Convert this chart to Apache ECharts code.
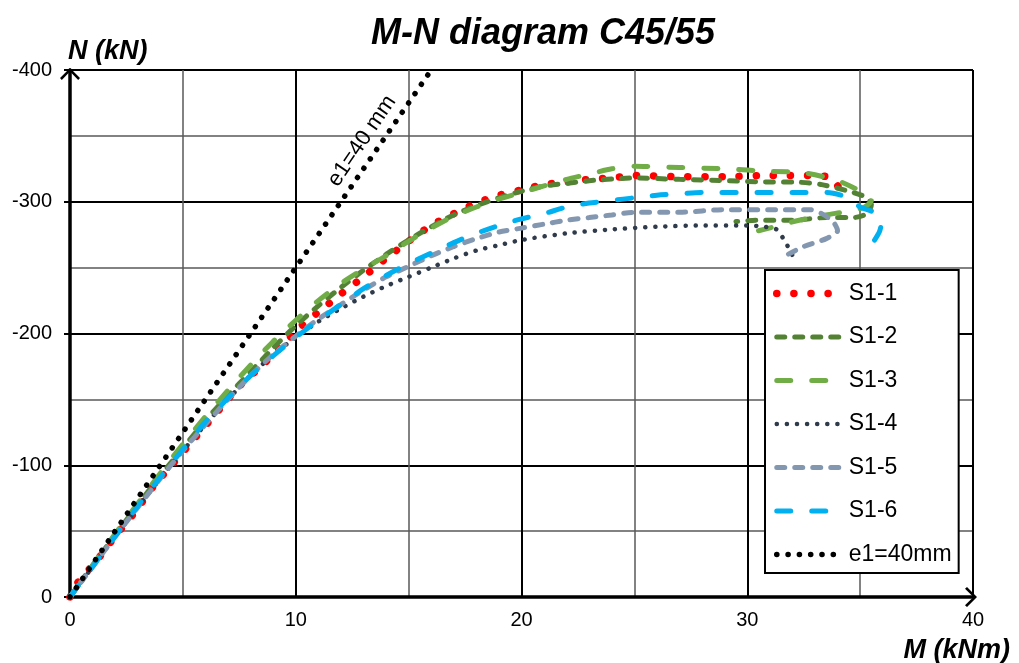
<!DOCTYPE html>
<html>
<head>
<meta charset="utf-8">
<script src="https://cdn.jsdelivr.net/npm/echarts@6/dist/echarts.min.js"></script>
<style>
  html, body { margin: 0; padding: 0; background: #fff; }
  #chart { width: 1019px; height: 663px; }
</style>
</head>
<body>
<div id="chart"></div>
<script>
// M-N interaction curves, pairs of [M (kNm), N (kN)]
const s11 = [[0,0],[0.3,-10],[1.2,-28],[2,-46],[2.9,-65],[3.7,-84],[4.5,-100],[5.4,-118],[6.7,-144],[7.5,-160],[8.4,-174],[9.3,-189],[10.2,-205],[11.2,-219],[12,-230],[13,-243],[14,-257],[15,-270],[16,-282],[17,-291],[18,-299],[19,-305],[20,-309],[21,-313],[22,-315],[23,-317],[24,-318],[25,-320],[27,-319],[29,-319],[31,-320],[33,-320],[33.7,-318],[34.1,-310],[34.4,-303]];
const s12 = [[0,0],[1,-24],[2,-47],[3,-70],[4,-92],[5,-113],[6,-134],[7,-153],[8,-171],[9,-189],[10,-206],[11,-221],[12,-235],[13,-248],[14,-260],[15,-271],[16,-281],[17,-290],[18,-297],[19,-303],[20,-308],[21,-312],[22,-314],[23,-316],[25,-318],[27,-317],[29,-316],[31,-315],[32,-315],[33.3,-313],[34.7,-307],[35.3,-303],[35.5,-298],[35.3,-291],[34.7,-288],[33.5,-288],[32,-286],[30.5,-286],[29.5,-285]];
const s13 = [[0,0],[1,-24],[2,-48],[3,-71],[4,-94],[5,-116],[6,-137],[7,-157],[8,-176],[9,-194],[10,-210],[11,-225],[12,-238],[13,-249],[14,-259],[15,-270],[16,-280],[17,-289],[18,-296],[19,-302],[20,-307],[21,-312],[22,-317],[23,-321],[24,-325],[25,-327],[27,-326],[29,-325],[31,-323],[32.5,-322],[34,-316],[35,-308],[35.5,-301],[35.2,-296],[34.5,-293],[33.5,-290],[32.3,-286],[31.2,-281],[30.5,-278]];
const s14 = [[0,0],[1,-23],[2,-46],[3,-68],[4,-90],[5,-111],[6,-131],[7,-150],[8,-168],[9,-184],[10,-197],[11,-209],[12,-219],[13,-228],[14,-236],[15,-243],[16,-250],[17,-257],[18,-263],[19,-267],[20,-271],[22,-276],[24,-279],[26,-281],[28,-282],[30,-282],[30.8,-281],[31.3,-279],[31.6,-272],[31.8,-266],[32.1,-256]];
const s15 = [[0,0],[1,-23],[2,-46],[3,-68],[4,-90],[5,-111],[6,-131],[7,-150],[8,-168],[9,-184],[10,-198],[11,-211],[12,-222],[13,-233],[14,-243],[15,-251],[16,-259],[17,-266],[18,-272],[19,-277],[20,-280],[21,-283],[22,-286],[23,-288],[24,-290],[25,-292],[27,-292],[29,-294],[31,-294],[32.8,-294],[33.3,-291],[33.8,-285],[34,-278],[33.5,-272],[32.5,-266],[31.8,-260]];
const s16 = [[0,0],[1,-23],[2,-46],[3,-69],[4,-91],[5,-112],[6,-133],[7,-151],[8,-168],[9,-183],[10,-197],[11,-210],[12,-222],[13,-234],[14,-244],[15,-253],[16,-261],[17,-269],[18,-276],[19,-282],[20,-287],[21,-291],[22,-296],[23,-299],[24,-301],[25,-303],[26,-305],[27,-306],[28,-307],[30,-307],[32,-307],[33.5,-307],[34.5,-303],[35,-296],[35.6,-292],[35.95,-285],[35.85,-277],[35.5,-267],[35.25,-258]];
// first-order eccentricity line e1 = 40 mm: M = 0.04 * N
const e1Line = [[0,0],[16,-400]];

const seriesNames = ['S1-1','S1-2','S1-3','S1-4','S1-5','S1-6','e1=40mm'];
const xTicks = [0, 40, 10];      // min, max, step of M axis
const yTicks = [-400, 0, 100];   // min, max, step of N axis

const FONT = "'Liberation Sans', Arial, sans-serif";

function curve(name, data, color, width, dash) {
  return {
    name: name, type: 'line', data: data, symbol: 'none', smooth: 0.25,
    lineStyle: { color: color, width: width, type: dash, cap: 'round' },
    itemStyle: { color: color },
    emphasis: { disabled: true }, animation: false
  };
}

const chart = echarts.init(document.getElementById('chart'), null, { renderer: 'canvas' });

// open chevron arrow head for the axis ends
const arrowPath = 'path://M10,0 L20,10 L18.2,12 L10,3.6 L1.8,12 L0,10 Z';

chart.setOption({
  backgroundColor: '#fff',
  animation: false,
  title: [
    { text: 'M-N diagram C45/55', left: 366, top: 11,
      textStyle: { fontSize: 36, fontWeight: 'bold', fontStyle: 'italic', fontFamily: FONT, color: '#000' } },
    { text: 'N (kN)', left: 63, top: 33,
      textStyle: { fontSize: 27, fontWeight: 'bold', fontStyle: 'italic', fontFamily: FONT, color: '#000' } },
    { text: 'M (kNm)', right: 4, top: 632,
      textStyle: { fontSize: 27, fontWeight: 'bold', fontStyle: 'italic', fontFamily: FONT, color: '#000' } }
  ],
  grid: { left: 70, top: 70, right: 46, bottom: 66, containLabel: false },
  legend: {
    orient: 'vertical', left: 765, top: 270,
    itemWidth: 67, itemHeight: 18, itemGap: 20.5,
    padding: [12, 7, 7, 8],
    backgroundColor: '#fff', borderColor: '#000', borderWidth: 2,
    textStyle: { fontSize: 23, fontFamily: FONT, color: '#000' },
    itemStyle: { color: 'rgba(0,0,0,0)', borderWidth: 0, opacity: 0 },
    lineStyle: { width: 'inherit', type: 'inherit', cap: 'inherit' },
    data: seriesNames,
    selectedMode: false
  },
  xAxis: {
    type: 'value', min: xTicks[0], max: xTicks[1], interval: xTicks[2],
    axisLine: { show: true, onZero: false, symbol: ['none', arrowPath], symbolSize: [20, 12], symbolOffset: [0, -2],
                lineStyle: { color: '#000', width: 3.5 } },
    axisTick: { show: false },
    axisLabel: { fontSize: 20, fontFamily: FONT, color: '#000', margin: 13 },
    splitLine: { show: true, lineStyle: { color: '#000', width: 2 } },
    minorTick: { show: false, splitNumber: 2 },
    minorSplitLine: { show: true, lineStyle: { color: '#5a5a5a', width: 1.5 } }
  },
  yAxis: {
    type: 'value', inverse: true, min: yTicks[0], max: yTicks[1], interval: yTicks[2],
    axisLine: { show: true, onZero: false, symbol: ['none', arrowPath], symbolSize: [20, 12], symbolOffset: [0, -4],
                lineStyle: { color: '#000', width: 3.5 } },
    axisTick: { show: true, length: 6, lineStyle: { color: '#000', width: 2 } },
    axisLabel: { fontSize: 20, fontFamily: FONT, color: '#000', margin: 18 },
    splitLine: { show: true, lineStyle: { color: '#000', width: 2 } },
    minorTick: { show: false, splitNumber: 2 },
    minorSplitLine: { show: true, lineStyle: { color: '#5a5a5a', width: 1.5 } }
  },
  graphic: [
    { type: 'text', x: 362, y: 141, rotation: 55.8 * Math.PI / 180, z: 10,
      style: { text: 'e1=40 mm', fontSize: 22, fontFamily: FONT, fill: '#000', align: 'center', verticalAlign: 'middle' } }
  ],
  series: [
    curve('S1-1', s11, '#ff0000', 7.5, [0.1, 17]),
    curve('S1-2', s12, '#548235', 5, [8, 10]),
    curve('S1-3', s13, '#70ad47', 5, [14, 21]),
    curve('S1-4', s14, '#2f3a4a', 4.5, [0.1, 10]),
    curve('S1-5', s15, '#8497b0', 5, [8, 10]),
    curve('S1-6', s16, '#00b0f0', 5, [14, 21]),
    Object.assign(curve('e1=40mm', e1Line, '#000', 5.5, [0.1, 11.2]), { smooth: false })
  ]
});
</script>
</body>
</html>
